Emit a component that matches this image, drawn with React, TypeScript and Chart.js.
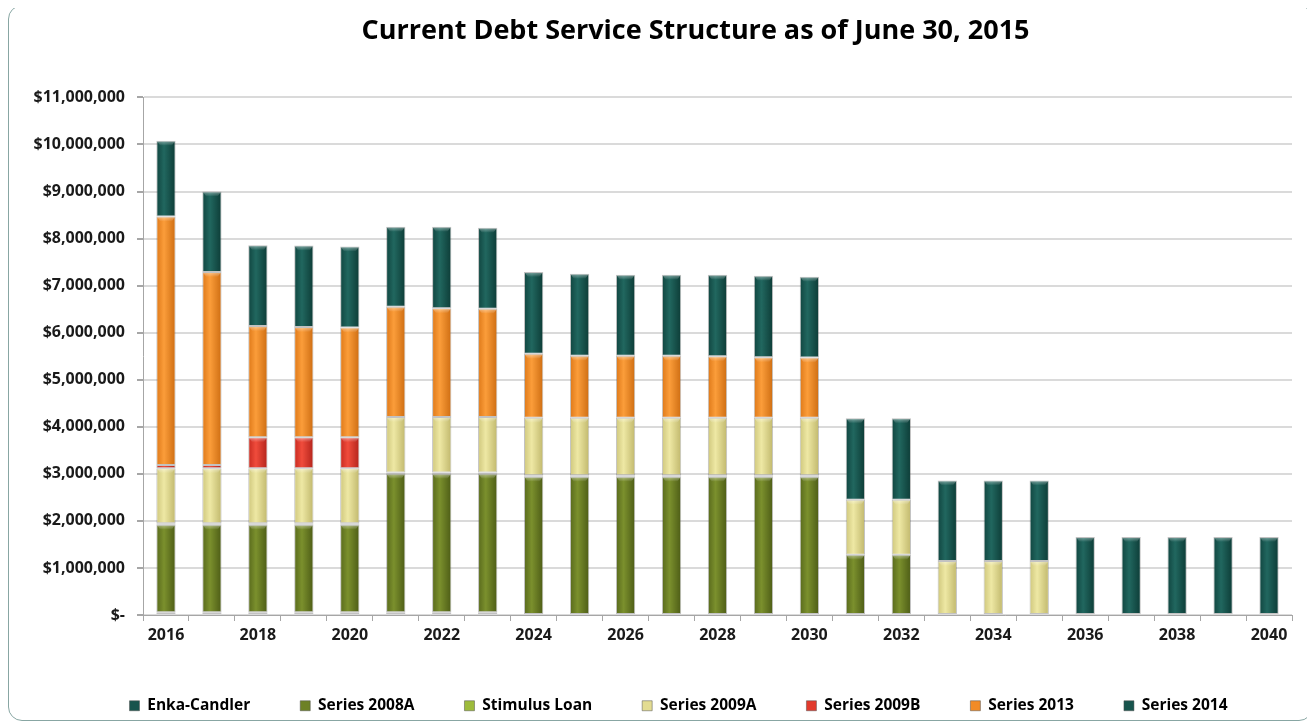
import React, { useEffect, useRef } from 'react';
import { Chart, registerables } from 'chart.js';

Chart.register(...registerables);

const years = ['2016','2017','2018','2019','2020','2021','2022','2023','2024','2025','2026','2027','2028','2029','2030','2031','2032','2033','2034','2035','2036','2037','2038','2039','2040'];

const enkaCandler = [60000,60000,60000,60000,60000,60000,60000,60000,0,0,0,0,0,0,0,0,0,0,0,0,0,0,0,0,0];
const series2008A = [1860000,1860000,1860000,1860000,1860000,2940000,2940000,2940000,2940000,2940000,2940000,2940000,2940000,2940000,2940000,1280000,1280000,0,0,0,0,0,0,0,0];
const stimulusLoan = [30000,30000,30000,30000,30000,30000,30000,30000,30000,30000,30000,30000,30000,30000,30000,0,0,0,0,0,0,0,0,0,0];
const series2009A = [1170000,1170000,1170000,1170000,1170000,1180000,1180000,1180000,1220000,1220000,1220000,1220000,1220000,1220000,1220000,1170000,1170000,1150000,1150000,1150000,0,0,0,0,0];
const series2009B = [70000,70000,660000,660000,660000,0,0,0,0,0,0,0,0,0,0,0,0,0,0,0,0,0,0,0,0];
const series2013 = [5280000,4100000,2360000,2340000,2330000,2340000,2310000,2300000,1360000,1320000,1320000,1320000,1310000,1290000,1280000,0,0,0,0,0,0,0,0,0,0];
const series2014 = [1610000,1710000,1720000,1730000,1720000,1700000,1730000,1720000,1740000,1740000,1720000,1720000,1730000,1730000,1720000,1730000,1730000,1710000,1710000,1710000,1660000,1660000,1660000,1660000,1660000];

const yTicks = [0,1000000,2000000,3000000,4000000,5000000,6000000,7000000,8000000,9000000,10000000,11000000];

const FONT = '"Open Sans", Lato, sans-serif';

type Shade = [string, string, string, string];
const teal: Shade = ['#0f433e', '#21675f', '#0c3a35', '#17544d'];
const olive: Shade = ['#56671b', '#7b902d', '#4b5a15', '#6d8126'];
const stim: Shade = ['#8aa52e', '#aac64b', '#7c9628', '#9dbb3b'];
const pale: Shade = ['#cdc57a', '#eee8a4', '#bfb66a', '#e3dc92'];
const red: Shade = ['#c4281e', '#f04c3c', '#b1221a', '#e23a2c'];
const orange: Shade = ['#dc7616', '#fb9d3a', '#cc6b10', '#f28b26'];

function barFill(s: Shade) {
  return (ctx: any) => {
    const chart = ctx.chart;
    const xs = chart.scales && chart.scales.x;
    if (!xs || ctx.type !== 'data' || !isFinite(xs.getPixelForValue(ctx.dataIndex))) return s[3];
    const x = xs.getPixelForValue(ctx.dataIndex);
    const w = 20;
    const g = chart.ctx.createLinearGradient(x - w / 2, 0, x + w / 2, 0);
    g.addColorStop(0, s[0]);
    g.addColorStop(0.4, s[1]);
    g.addColorStop(1, s[2]);
    return g;
  };
}

const seriesDefs: { label: string; data: number[]; shade: Shade }[] = [
  { label: 'Enka-Candler', data: enkaCandler, shade: teal },
  { label: 'Series 2008A', data: series2008A, shade: olive },
  { label: 'Stimulus Loan', data: stimulusLoan, shade: stim },
  { label: 'Series 2009A', data: series2009A, shade: pale },
  { label: 'Series 2009B', data: series2009B, shade: red },
  { label: 'Series 2013', data: series2013, shade: orange },
  { label: 'Series 2014', data: series2014, shade: teal },
];

const TITLE_SHIFT = 45;
const LEGEND_SHIFT = 28;
const LEGEND_TOP = 642;

const shiftPlugin = {
  id: 'shiftBlocks',
  afterLayout(chart: any) {
    const t = chart.titleBlock;
    if (t) {
      t.left += TITLE_SHIFT;
      t.right += TITLE_SHIFT;
    }
    const l = chart.legend;
    if (l) {
      l.left += LEGEND_SHIFT;
      l.right += LEGEND_SHIFT;
      l.top = LEGEND_TOP;
      l.bottom = chart.height;
      l.height = l.bottom - l.top;
    }
  },
};

const bevelPlugin = {
  id: 'bevelCaps',
  afterDatasetsDraw(chart: any) {
    const ctx = chart.ctx;
    ctx.save();
    chart.getSortedVisibleDatasetMetas().forEach((meta: any) => {
      meta.data.forEach((bar: any) => {
        const p = bar.getProps(['x', 'y', 'base', 'width'], true);
        const h = Math.abs(p.base - p.y);
        if (h < 6) return;
        const top = Math.min(p.y, p.base);
        const left = p.x - p.width / 2;
        const g = ctx.createLinearGradient(0, top, 0, top + 5);
        g.addColorStop(0, 'rgba(255,255,255,0.45)');
        g.addColorStop(1, 'rgba(255,255,255,0)');
        ctx.fillStyle = g;
        ctx.beginPath();
        ctx.moveTo(left + 1, top + 1);
        ctx.lineTo(left + p.width - 1, top + 1);
        ctx.lineTo(left + p.width - 4, top + 5);
        ctx.lineTo(left + 4, top + 5);
        ctx.closePath();
        ctx.fill();
      });
    });
    ctx.restore();
  },
};

export default function App() {
  const ref = useRef<HTMLCanvasElement | null>(null);

  useEffect(() => {
    if (!ref.current) return;
    const chart = new Chart(ref.current, {
      type: 'bar',
      data: {
        labels: years,
        datasets: seriesDefs.map((d) => ({
          label: d.label,
          data: d.data,
          backgroundColor: barFill(d.shade),
          borderColor: 'rgba(80,80,80,0.35)',
          borderWidth: 1,
          borderSkipped: false,
          barPercentage: 0.42,
          categoryPercentage: 1,
        })),
      },
      plugins: [shiftPlugin, bevelPlugin],
      options: {
        animation: false,
        responsive: true,
        maintainAspectRatio: false,
        layout: { padding: { top: 0, right: 20, bottom: 0, left: 0 } },
        plugins: {
          title: {
            display: true,
            text: 'Current Debt Service Structure as of June 30, 2015',
            color: '#000',
            font: { family: FONT, size: 27, weight: 'bold' },
            padding: { top: 9, bottom: 50 },
          },
          legend: {
            position: 'bottom',
            maxHeight: 60,
            labels: {
              boxWidth: 10,
              boxHeight: 10,
              padding: 50,
              color: '#1a1a1a',
              font: { family: FONT, size: 15.5, weight: 'bold' },
              generateLabels: () =>
                seriesDefs.map((d, i) => ({
                  text: d.label,
                  fillStyle: d.shade[3],
                  strokeStyle: 'rgba(80,80,80,0.5)',
                  lineWidth: 1,
                  hidden: false,
                  datasetIndex: i,
                })),
            },
          },
          tooltip: { enabled: false },
        },
        scales: {
          x: {
            stacked: true,
            afterFit: (scale: any) => { scale.height = 45; },
            grid: { display: true, drawOnChartArea: false, offset: true, tickLength: 6, color: '#a6a6a6' },
            border: { display: true, color: '#a6a6a6' },
            ticks: {
              autoSkip: false,
              maxRotation: 0,
              padding: 5,
              color: '#1a1a1a',
              font: { family: FONT, size: 16, weight: 'bold' },
              callback: function (this: any, val: any, idx: number) {
                return idx % 2 === 0 ? years[idx] : '';
              },
            },
          },
          y: {
            stacked: true,
            min: 0,
            max: 11000000,
            afterFit: (scale: any) => { scale.width = 134; },
            afterBuildTicks: (scale: any) => { scale.ticks = yTicks.map((v) => ({ value: v })); },
            grid: { color: '#dadada', lineWidth: 2, tickLength: 6, tickColor: '#a6a6a6' },
            border: { display: true, color: '#a6a6a6' },
            ticks: {
              padding: 12,
              color: '#1a1a1a',
              font: { family: FONT, size: 16, weight: 'bold' },
              callback: (v: any) => (Number(v) === 0 ? '$-' : '$' + Number(v).toLocaleString('en-US')),
            },
          },
        },
      },
    });
    return () => chart.destroy();
  }, []);

  return (
    <div
      style={{
        width: 1305,
        height: 716,
        marginTop: -3,
        border: '1px solid #88a6a3',
        borderRadius: 14,
        boxSizing: 'border-box',
        position: 'relative',
        overflow: 'hidden',
        background: '#fff',
      }}
    >
      <canvas ref={ref} />
    </div>
  );
}
